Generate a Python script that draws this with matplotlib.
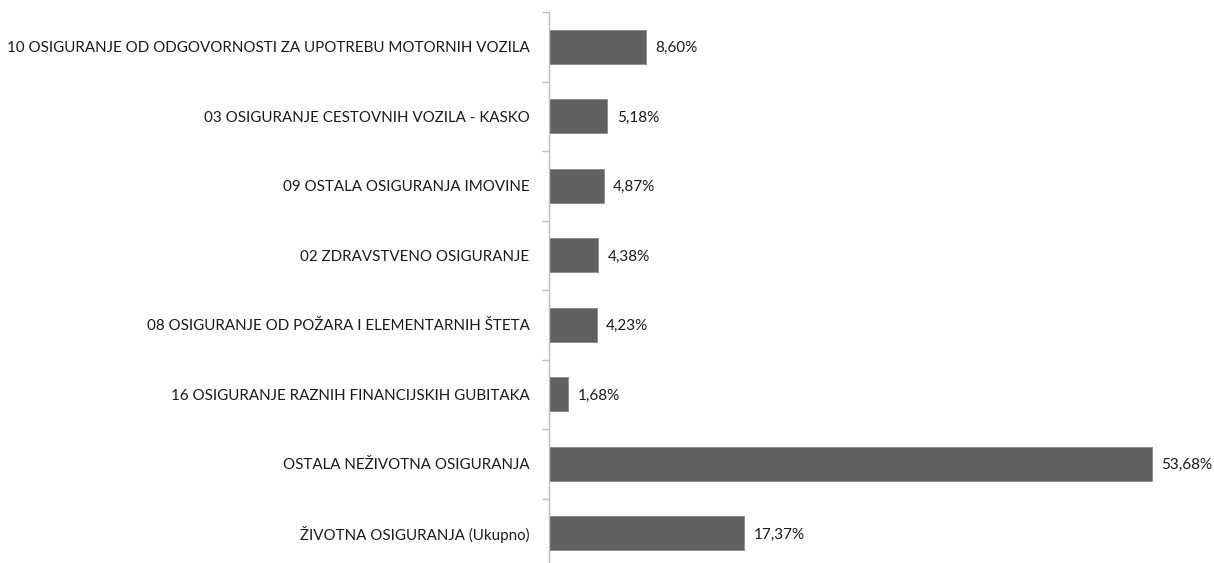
import matplotlib
matplotlib.use("Agg")
import matplotlib.pyplot as plt

categories = [
    "10 OSIGURANJE OD ODGOVORNOSTI ZA UPOTREBU MOTORNIH VOZILA",
    "03 OSIGURANJE CESTOVNIH VOZILA - KASKO",
    "09 OSTALA OSIGURANJA IMOVINE",
    "02 ZDRAVSTVENO OSIGURANJE",
    "08 OSIGURANJE OD POŽARA I ELEMENTARNIH ŠTETA",
    "16 OSIGURANJE RAZNIH FINANCIJSKIH GUBITAKA",
    "OSTALA NEŽIVOTNA OSIGURANJA",
    "ŽIVOTNA OSIGURANJA (Ukupno)",
]
values = [8.60, 5.18, 4.87, 4.38, 4.23, 1.68, 53.68, 17.37]
value_labels = ["8,60%", "5,18%", "4,87%", "4,38%", "4,23%", "1,68%", "53,68%", "17,37%"]

plt.rcParams['font.family'] = ['Lato', 'DejaVu Sans']

W, H = 1214, 563
fig = plt.figure(figsize=(W / 100, H / 100), dpi=100)
x0, x1 = 549, 1214
ytop, ybot = 12, 12 + 8 * 69.5
ax = fig.add_axes([x0 / W, 1 - ybot / H, (x1 - x0) / W, (ybot - ytop) / H])

n = len(categories)
pos = list(range(n))
ax.barh(pos, values, height=0.49, color="#606060", edgecolor="#8a8a8a", linewidth=0.6)
ax.set_ylim(n - 0.5, -0.5)
ax.set_xlim(0, (x1 - x0) / 11.23)

for p, v, lab in zip(pos, values, value_labels):
    ax.text(v + 0.85, p + 0.02, lab, va="center", ha="left", fontsize=11, color="#1a1a1a")

ax.set_yticks(pos)
ax.set_yticklabels(categories, fontsize=10.9, color="#1a1a1a")
ax.tick_params(axis="y", length=0, pad=14)
ax.set_yticks([i - 0.5 for i in range(n + 1)], minor=True)
ax.tick_params(axis="y", which="minor", length=5, color="#bfbfbf", width=1)
ax.set_xticks([])
for s in ["top", "right", "bottom"]:
    ax.spines[s].set_visible(False)
ax.spines["left"].set_color("#bfbfbf")
ax.spines["left"].set_linewidth(1)

fig.savefig("out.png", dpi=100)
